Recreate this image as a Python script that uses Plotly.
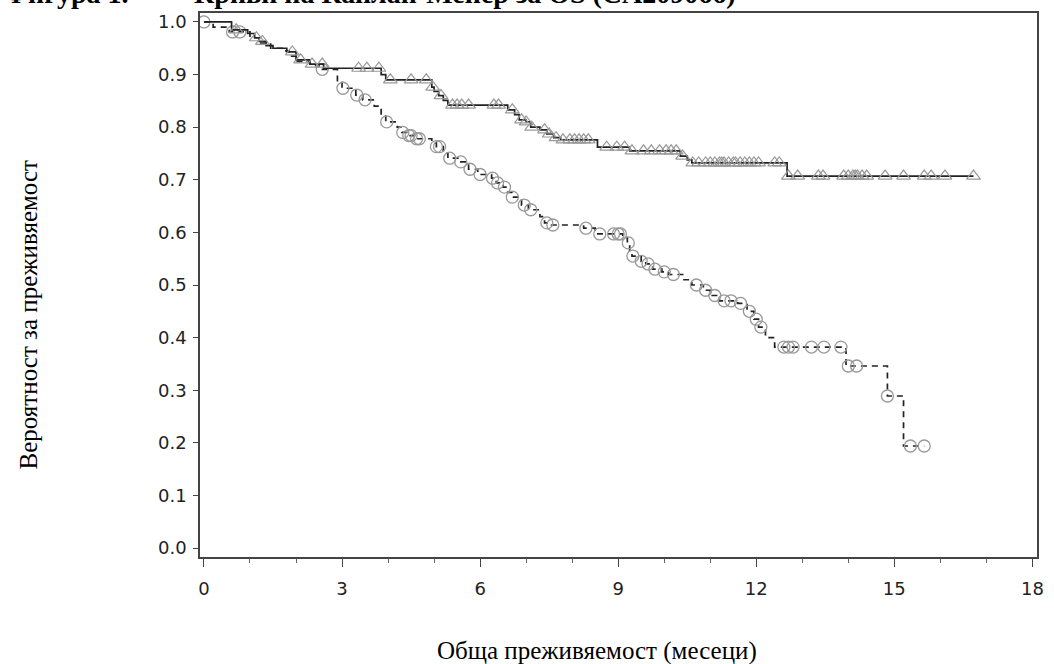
import numpy as np
import plotly.graph_objects as go

# ---------------- data ----------------
# Upper arm (solid line, triangle censor marks): step times and survival after each step
nivo_t = [0.0, 0.6, 0.95, 1.1, 1.2, 1.35, 1.5, 1.8, 2.0, 2.3, 2.6, 3.85, 3.95,
          4.95, 5.0, 5.1, 5.2, 5.3, 6.6, 6.75, 6.85, 7.0, 7.1, 7.3, 7.45, 7.6, 7.75,
          8.55, 9.25, 10.35, 10.5, 10.6, 12.67]
nivo_s = [1.0, 0.985, 0.978, 0.970, 0.963, 0.955, 0.950, 0.943, 0.928, 0.920, 0.912, 0.900, 0.890,
          0.876, 0.868, 0.860, 0.851, 0.842, 0.833, 0.824, 0.814, 0.810, 0.800, 0.795, 0.787, 0.780, 0.776,
          0.762, 0.755, 0.745, 0.738, 0.732, 0.707]
nivo_cens = [0.7, 1.14, 1.27, 1.92, 2.1, 2.35, 2.57, 3.36, 3.54, 3.8, 4.05, 4.5, 4.83,
             4.97, 5.15, 5.4, 5.5, 5.6, 5.75, 6.3, 6.4, 6.7, 6.9, 7.0, 7.12, 7.4, 7.5, 7.65,
             7.8, 7.95, 8.05, 8.15, 8.25, 8.35, 8.75, 8.97, 9.14, 9.3, 9.55, 9.72, 9.9,
             10.04, 10.15, 10.26, 10.4, 10.62, 10.75, 10.9, 11.0, 11.1, 11.2, 11.25, 11.3,
             11.4, 11.5, 11.55, 11.65, 11.75, 11.85, 11.95, 12.05, 12.4, 12.5,
             12.7, 12.9, 13.35, 13.45, 13.9, 14.0, 14.1, 14.15, 14.2, 14.3, 14.4,
             14.8, 15.2, 15.65, 15.8, 16.1, 16.72]

# Lower arm (dashed line, circle censor marks)
dtic_t = [0.0, 0.2, 0.55, 1.0, 1.2, 1.45, 1.7, 1.85, 2.0, 2.3, 2.5, 2.9, 3.0, 3.3, 3.45,
          3.7, 3.85, 3.95, 4.2, 4.3, 4.45, 4.6, 4.95, 5.05, 5.2, 5.3, 5.55, 5.75, 5.95,
          6.25, 6.35, 6.5, 6.6, 6.7, 6.9, 7.05, 7.3, 7.4, 7.55, 8.25, 8.5, 9.1, 9.2, 9.25,
          9.3, 9.5, 9.6, 9.75, 9.95, 10.1, 10.4, 10.6, 10.85, 11.0, 11.2, 11.6, 11.8,
          11.95, 12.05, 12.2, 12.4, 13.95, 14.85, 15.2]
dtic_s = [1.0, 0.990, 0.981, 0.970, 0.960, 0.950, 0.945, 0.935, 0.925, 0.918, 0.910, 0.885, 0.874,
          0.861, 0.852, 0.840, 0.825, 0.810, 0.800, 0.790, 0.784, 0.778, 0.770, 0.763, 0.750,
          0.741, 0.734, 0.720, 0.710, 0.703, 0.694, 0.686, 0.676, 0.667, 0.652, 0.643, 0.630,
          0.618, 0.614, 0.608, 0.597, 0.590, 0.580, 0.565, 0.555, 0.545, 0.540, 0.530, 0.525,
          0.520, 0.510, 0.500, 0.490, 0.480, 0.470, 0.465, 0.450, 0.435, 0.420, 0.400, 0.382,
          0.346, 0.289, 0.194]
dtic_cens = [0.0, 0.62, 0.78, 2.57, 3.02, 3.32, 3.5, 3.97, 4.32, 4.45, 4.5, 4.62, 4.68,
             5.05, 5.12, 5.34, 5.58, 5.78, 6.0, 6.27, 6.38, 6.53, 6.7, 6.96, 7.1, 7.45, 7.58,
             8.3, 8.6, 8.9, 9.0, 9.05, 9.22, 9.32, 9.5, 9.65, 9.8, 10.0, 10.2, 10.7, 10.9,
             11.1, 11.3, 11.45, 11.66, 11.85, 12.0, 12.1, 12.6, 12.7, 12.8, 13.2, 13.47,
             13.84, 14.0, 14.18, 14.85, 15.35, 15.65]

x_ticks = [0, 3, 6, 9, 12, 15, 18]
y_ticks = [0.0, 0.1, 0.2, 0.3, 0.4, 0.5, 0.6, 0.7, 0.8, 0.9, 1.0]

title_left = "Фигура 1."
title_right = "Криви на Каплан-Мейер за OS (CA209066)"
x_title = "Обща преживяемост (месеци)"
y_title = "Вероятност за преживяемост"


def step_at(ts, ss, t):
    idx = np.searchsorted(np.array(ts), t, side="right") - 1
    return ss[max(idx, 0)]


def line_xy(ts, ss, cens):
    end = max(max(ts), max(cens))
    return list(ts) + [end], list(ss) + [ss[-1]]


fig = go.Figure()

# lower arm
lx, ly = line_xy(dtic_t, dtic_s, dtic_cens)
fig.add_trace(go.Scatter(x=lx, y=ly, mode="lines", line=dict(color="#222", width=1.7, dash="6px,5px", shape="hv"),
                         showlegend=False, hoverinfo="skip"))
fig.add_trace(go.Scatter(x=dtic_cens, y=[step_at(dtic_t, dtic_s, t) for t in dtic_cens], mode="markers",
                         marker=dict(symbol="circle-open", size=12, color="#999999", line=dict(width=1.3)),
                         showlegend=False))

# upper arm
ux, uy = line_xy(nivo_t, nivo_s, nivo_cens)
fig.add_trace(go.Scatter(x=ux, y=uy, mode="lines", line=dict(color="#222", width=1.7, shape="hv"),
                         showlegend=False, hoverinfo="skip"))
fig.add_trace(go.Scatter(x=nivo_cens, y=[step_at(nivo_t, nivo_s, t) for t in nivo_cens], mode="markers",
                         marker=dict(symbol="triangle-up-open", size=12, color="#999999", line=dict(width=1.2)),
                         showlegend=False))

axis_common = dict(showline=True, linecolor="#444", linewidth=1.5, mirror=True, showgrid=False, zeroline=False,
                   ticks="outside", tickcolor="#444", tickwidth=1.3,
                   tickfont=dict(family="DejaVu Sans", size=18, color="#222"))

fig.update_xaxes(range=[-0.086, 18.1], tickvals=x_ticks, ticklen=8,
                 minor=dict(dtick=1, ticks="outside", ticklen=4, tickcolor="#666", tickwidth=1),
                 ticklabelstandoff=7, **axis_common)
fig.update_yaxes(range=[-0.017, 1.017], tickvals=y_ticks, ticktext=[f"{v:.1f}" for v in y_ticks],
                 ticklen=5, ticklabelstandoff=3, **axis_common)

fig.update_layout(
    width=1054, height=664,
    margin=dict(l=200, r=10, t=13, b=107),
    paper_bgcolor="white", plot_bgcolor="white",
    annotations=[
        dict(text=f"<b>{title_left}</b>", xref="paper", yref="paper", x=-200 / 844, y=1 + 2 / 544,
             xanchor="left", yanchor="bottom", showarrow=False,
             font=dict(family="Liberation Serif", size=28, color="#000")),
        dict(text=f"<b>{title_right}</b>", xref="paper", yref="paper", x=-8 / 844, y=1 + 2 / 544,
             xanchor="left", yanchor="bottom", showarrow=False,
             font=dict(family="Liberation Serif", size=28, color="#000")),
        dict(text=x_title, xref="paper", yref="paper", x=(600 - 200) / 844, y=-(651 - 557) / 544,
             xanchor="center", yanchor="middle", showarrow=False,
             font=dict(family="Liberation Serif", size=25, color="#000")),
        dict(text=y_title, xref="paper", yref="paper", x=-(200 - 27) / 844, y=(557 - 315) / 544,
             xanchor="center", yanchor="middle", textangle=-90, showarrow=False,
             font=dict(family="Liberation Serif", size=25, color="#000")),
    ],
)

fig.write_html("out.html")
